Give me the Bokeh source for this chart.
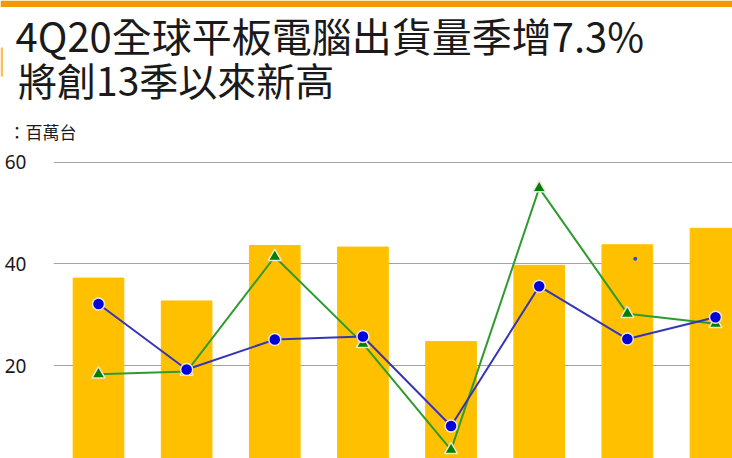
from bokeh.plotting import figure
from bokeh.layouts import column
from bokeh.models import Range1d, FixedTicker, Label, ColumnDataSource, BoxAnnotation
from bokeh.embed import file_html
from bokeh.resources import INLINE

# ---- data ----
quarters = ["1Q19", "2Q19", "3Q19", "4Q19", "1Q20", "2Q20", "3Q20", "4Q20(F)"]
shipments = [37.2, 32.7, 43.6, 43.3, 24.7, 39.7, 43.75, 47.0]
series_circle = [32.1, 19.2, 25.1, 25.7, 8.1, 35.6, 25.2, 29.5]
series_triangle = [18.3, 18.8, 41.4, 24.3, 3.4, 54.9, 30.2, 28.2]
stray_dot_x = [6.09]
stray_dot_y = [41.0]
y_ticks = [0, 20, 40, 60]
title_line1 = "4Q20全球平板電腦出貨量季增7.3%"
title_line2 = "將創13季以來新高"
unit_label = "：百萬台"

# ---- layout ----
W = 732
TOP_H = 145
BOT_H = 313
LEFT = 53
PPX = 88.14          # pixels per category
PPY = 5.0825         # pixels per unit
X0 = -45.0 / PPX
X1 = X0 + (W - LEFT) / PPX
Y1 = (466.65 - TOP_H) / PPY
Y0 = Y1 - BOT_H / PPY

CJK = "Noto Sans CJK TC"
INK = "#1A1A1A"

# ---------- header figure (titles) ----------
head = figure(width=W, height=TOP_H, x_range=Range1d(0, W), y_range=Range1d(-TOP_H, 0),
              output_backend="svg", toolbar_location=None, title=None,
              x_axis_location=None, y_axis_location=None,
              min_border_left=0, min_border_right=0, min_border_top=0, min_border_bottom=0,
              outline_line_color=None, background_fill_color="white",
              border_fill_color="white")
head.xgrid.visible = False
head.ygrid.visible = False
head.add_layout(BoxAnnotation(left=0, right=W, top=0, bottom=-6.5,
                              fill_color="#F39800", fill_alpha=1, line_color=None))
head.add_layout(BoxAnnotation(left=0, right=2.5, top=-47, bottom=-76,
                              fill_color="#F8BF5A", fill_alpha=1, line_color=None))
head.add_layout(Label(x=15, y=-34.5, text=title_line1, text_font=CJK,
                      text_font_size="40px", text_baseline="middle", text_color=INK))
head.add_layout(Label(x=17.5, y=-78.5, text=title_line2, text_font=CJK,
                      text_font_size="39px", text_baseline="middle", text_color=INK))
head.add_layout(Label(x=8, y=-130.5, text=unit_label, text_font=CJK,
                      text_font_size="17px", text_baseline="middle", text_color=INK))

# ---------- chart figure ----------
src = ColumnDataSource(dict(
    x=list(range(len(quarters))),
    q=quarters,
    ship=shipments,
    circ=series_circle,
    tri=series_triangle,
))

p = figure(width=W, height=BOT_H, x_range=Range1d(X0, X1), y_range=Range1d(Y0, Y1),
           output_backend="svg", toolbar_location=None, x_axis_location=None,
           title=None, min_border_left=LEFT, min_border_right=0,
           min_border_top=0, min_border_bottom=0, outline_line_color=None,
           background_fill_color="white", border_fill_color="white")

ticker = FixedTicker(ticks=y_ticks)
p.yaxis.ticker = ticker
p.ygrid.ticker = ticker
p.xgrid.visible = False
p.ygrid.grid_line_color = "#A3A3A3"
p.ygrid.grid_line_width = 1
p.yaxis.axis_line_color = None
p.yaxis.major_tick_line_color = None
p.yaxis.minor_tick_line_color = None
p.yaxis.major_tick_out = 0
p.yaxis.major_tick_in = 0
p.yaxis.minor_tick_out = 0
p.yaxis.major_label_standoff = 27
p.yaxis.major_label_text_font = "Noto Sans"
p.yaxis.major_label_text_font_size = "19px"
p.yaxis.major_label_text_color = INK

p.vbar(x="x", top="ship", bottom=0, width=0.575, color="#FFC000", source=src)

p.line(x="x", y="tri", line_color="#2E9B2E", line_width=2, source=src)
p.scatter(x="x", y="tri", marker="triangle", size=13, fill_color="#008000",
          line_color="#ECE6D8", line_width=1.5, source=src)
p.line(x="x", y="circ", line_color="#3535B8", line_width=2, source=src)
p.scatter(x="x", y="circ", marker="circle", size=12, fill_color="#0000D8",
          line_color="#ECE6D8", line_width=1.5, source=src)
p.scatter(x=stray_dot_x, y=stray_dot_y, marker="circle", size=4,
          fill_color="#3344DD", line_color=None)

# keep each figure's frame where it is set (no cross-figure frame alignment)
for fig in (head, p):
    if "frame_align" in fig.properties():
        fig.frame_align = False

layout = column(head, p, spacing=0)
open("out.html", "w").write(file_html(layout, INLINE))
